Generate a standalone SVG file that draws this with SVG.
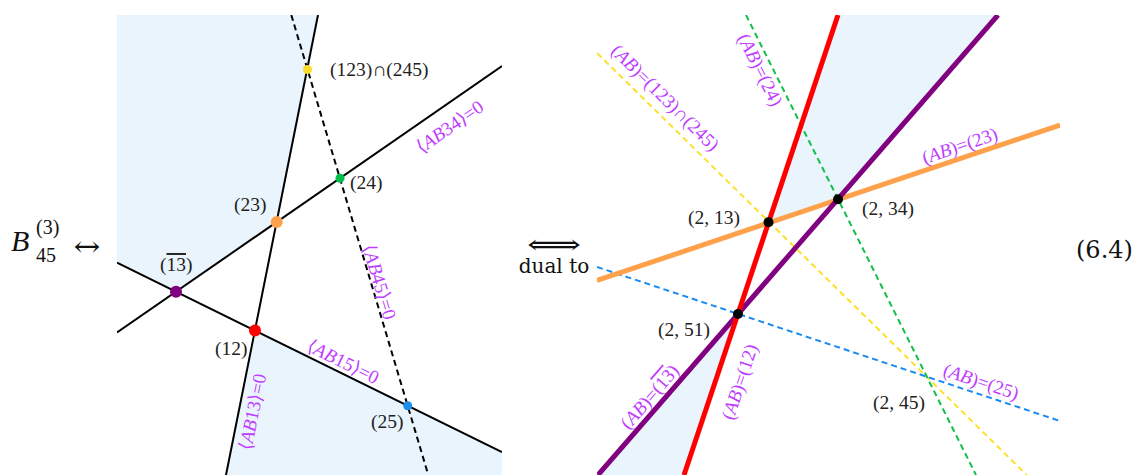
<svg xmlns="http://www.w3.org/2000/svg" width="1135" height="475" viewBox="0 0 1135 475">
<defs>
<style>
.shade{fill:#e9f4fd;stroke:none}
.bl{stroke:#000;stroke-width:2;fill:none}
.bd{stroke:#000;stroke-width:2;fill:none;stroke-dasharray:6 4}
.thick{stroke-width:5;fill:none}
.dash{stroke-width:2;fill:none;stroke-dasharray:6 4}
.lab{font-family:"Liberation Serif","DejaVu Serif",serif;font-size:19.5px;fill:#222}
.mag{font-family:"Liberation Serif","DejaVu Serif",serif;font-size:19px;fill:#c03cff;text-anchor:middle}
.eq{font-family:"Liberation Serif","DejaVu Serif",serif;fill:#111}
.dj{font-family:"DejaVu Serif",serif;fill:#111}
.it{font-style:italic}
.ov{text-decoration:overline}
</style>
<clipPath id="cl"><rect x="117" y="15" width="385" height="460"/></clipPath>
<clipPath id="cr"><rect x="597" y="15" width="463" height="460"/></clipPath>
</defs>
<rect width="1135" height="475" fill="#fff"/>

<!-- equation labels -->
<g id="lhs">
<text class="eq it" x="11" y="251" font-size="30">B</text>
<text class="eq" x="36" y="234" font-size="20">(3)</text>
<text class="eq" x="36" y="262" font-size="20">45</text>
<text class="dj" x="87" y="256" font-size="28" text-anchor="middle" transform="translate(87,0) scale(1.15,1) translate(-87,0)">↔</text>
</g>
<g id="dual">
<text class="dj" font-size="28" text-anchor="middle" transform="translate(554,254) scale(1.35,1)">⟺</text>
<text class="dj" x="554" y="273" font-size="20" text-anchor="middle">dual to</text>
</g>
<g id="eqnum"><text class="dj" x="1076" y="258" font-size="24">(6.4)</text></g>

<!-- left panel -->
<g id="left-regions">
<polygon class="shade" points="117,15 318,15 276.7,221.9 176,291.7 117,262.7"/>
<polygon class="shade" points="255,330.6 226,475 502,475 502,452.1"/>
</g>
<g id="left-connectors" clip-path="url(#cl)">
<line class="bl" x1="318" y1="15" x2="226" y2="475"/>
<line class="bd" x1="291.3" y1="15" x2="428.3" y2="475"/>
<line class="bl" x1="117" y1="332.5" x2="502" y2="66.1"/>
<line class="bl" x1="117" y1="262.7" x2="502" y2="452.1"/>
</g>
<g id="left-line-labels">
<text class="mag" transform="translate(450,127) rotate(-34.7)" dy="6">⟨<tspan class="it">AB</tspan>34⟩=0</text>
<text class="mag" transform="translate(379,282) rotate(73.4)" dy="6">⟨<tspan class="it">AB</tspan>45⟩=0</text>
<text class="mag" transform="translate(343,362) rotate(26.2)" dy="6">⟨<tspan class="it">AB</tspan>15⟩=0</text>
<text class="mag" transform="translate(253,412) rotate(-78.7)" dy="6">⟨<tspan class="it">AB</tspan>13⟩=0</text>
</g>
<g id="p-123-245"><circle cx="307.5" cy="69.5" r="4.5" fill="#fbdc27"/><text class="lab" x="330" y="76">(123)∩(245)</text></g>
<g id="p-24"><circle cx="340" cy="178.2" r="4.5" fill="#00c04b"/><text class="lab" x="350" y="189">(24)</text></g>
<g id="p-23"><circle cx="276.7" cy="221.9" r="6" fill="#ffa04a"/><text class="lab" x="234" y="211">(23)</text></g>
<g id="p-13"><circle cx="176" cy="291.7" r="6" fill="#800080"/><text class="lab" x="160" y="271">(<tspan class="ov">13</tspan>)</text></g>
<g id="p-12"><circle cx="255" cy="330.6" r="6" fill="#ff0000"/><text class="lab" x="215" y="355">(12)</text></g>
<g id="p-25"><circle cx="407.7" cy="405.7" r="4.5" fill="#1a8ee8"/><text class="lab" x="371" y="428">(25)</text></g>

<!-- right panel -->
<g id="right-regions">
<polygon class="shade" points="838,15 998,15 838,199.3 768.5,222.3"/>
<polygon class="shade" points="738,314 684,475 598,475"/>
</g>
<g id="right-connectors" clip-path="url(#cr)">
<line class="dash" stroke="#fde02a" x1="597.3" y1="53.3" x2="1026.7" y2="475"/>
<line class="dash" stroke="#10c048" x1="746" y1="15" x2="976" y2="475"/>
<line class="dash" stroke="#1a8cf0" x1="597" y1="267" x2="1060" y2="421"/>
<line class="thick" stroke="#ffa04a" x1="597" y1="280.5" x2="1060" y2="125"/>
<line class="thick" stroke="#800080" x1="998" y1="15" x2="598" y2="475"/>
<line class="thick" stroke="#ff0000" x1="838" y1="15" x2="684" y2="475"/>
</g>
<g id="right-line-labels">
<text class="mag" transform="translate(665,98) rotate(44.5)" dy="6">(<tspan class="it">AB</tspan>)=(123)∩(245)</text>
<text class="mag" transform="translate(760,70) rotate(63.4)" dy="6">(<tspan class="it">AB</tspan>)=(24)</text>
<text class="mag" transform="translate(960,146) rotate(-18.6)" dy="6">(<tspan class="it">AB</tspan>)=(23)</text>
<text class="mag" transform="translate(650,397) rotate(-49)" dy="6">(<tspan class="it">AB</tspan>)=(<tspan class="ov">13</tspan>)</text>
<text class="mag" transform="translate(740,382) rotate(-71.5)" dy="6">(<tspan class="it">AB</tspan>)=(12)</text>
<text class="mag" transform="translate(981,382) rotate(18.4)" dy="6">(<tspan class="it">AB</tspan>)=(25)</text>
</g>
<g id="q-2-13"><circle cx="768.5" cy="222.3" r="5" fill="#000"/><text class="lab" x="688" y="224">(2, 13)</text></g>
<g id="q-2-34"><circle cx="838" cy="199.3" r="5" fill="#000"/><text class="lab" x="862" y="215">(2, 34)</text></g>
<g id="q-2-51"><circle cx="738" cy="314" r="5" fill="#000"/><text class="lab" x="658" y="336">(2, 51)</text></g>
<g id="q-2-45"><text class="lab" x="873" y="409">(2, 45)</text></g>
</svg>
